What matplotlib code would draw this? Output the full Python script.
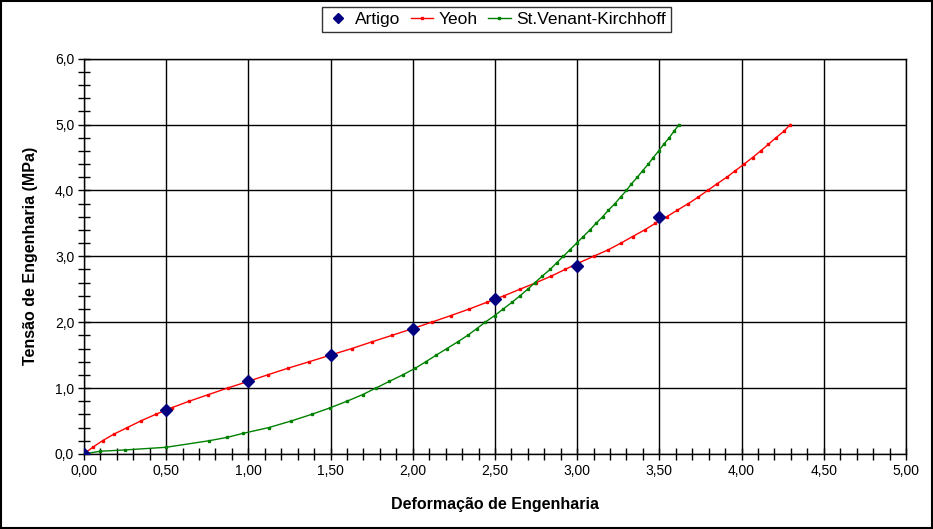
import matplotlib
matplotlib.use("Agg")
import matplotlib.pyplot as plt
from matplotlib.ticker import MultipleLocator, FuncFormatter
from matplotlib.patches import Rectangle

plt.rcParams['font.family'] = ['Liberation Sans', 'DejaVu Sans']

# dados do artigo
artigo_def = [0.0, 0.5, 1.0, 1.5, 2.0, 2.5, 3.0, 3.5]
artigo_tens = [0.0, 0.67, 1.10, 1.50, 1.89, 2.35, 2.86, 3.60]

# modelo de Yeoh
yeoh_def = [0.0, 0.053, 0.113, 0.182, 0.264, 0.345, 0.436, 0.533, 0.64, 0.757,
            0.874, 0.998, 1.117, 1.24, 1.371, 1.50, 1.63, 1.75, 1.874, 1.997,
            2.115, 2.232, 2.344, 2.449, 2.555, 2.652, 2.75, 2.843, 2.926, 3.01,
            3.10, 3.19, 3.266, 3.337, 3.41, 3.475, 3.544, 3.609, 3.676, 3.737,
            3.794, 3.85, 3.91, 3.962, 4.015, 4.067, 4.116, 4.163, 4.209, 4.258, 4.296]
yeoh_tens = [0.0, 0.1, 0.2, 0.3, 0.4, 0.5, 0.6, 0.7, 0.8, 0.9,
             1.0, 1.1, 1.2, 1.3, 1.4, 1.5, 1.6, 1.7, 1.8, 1.9,
             2.0, 2.1, 2.2, 2.3, 2.4, 2.5, 2.6, 2.7, 2.8, 2.9,
             3.0, 3.1, 3.2, 3.3, 3.4, 3.5, 3.6, 3.7, 3.8, 3.9,
             4.0, 4.1, 4.2, 4.3, 4.4, 4.5, 4.6, 4.7, 4.8, 4.9, 5.0]

# modelo St.Venant-Kirchhoff
svk_def = [0.0, 0.10, 0.25, 0.499, 0.762, 0.87, 0.965, 1.125, 1.261, 1.385,
           1.498, 1.60, 1.695, 1.776, 1.857, 1.939, 2.015, 2.08, 2.143, 2.208,
           2.273, 2.334, 2.388, 2.441, 2.498, 2.55, 2.603, 2.652, 2.699, 2.743,
           2.788, 2.835, 2.875, 2.916, 2.956, 2.997, 3.037, 3.078, 3.114, 3.155,
           3.19, 3.23, 3.264, 3.30, 3.33, 3.366, 3.398, 3.433, 3.463, 3.496,
           3.526, 3.56, 3.589, 3.62]
svk_tens = [0.0, 0.04, 0.06, 0.1, 0.2, 0.25, 0.31, 0.4, 0.5, 0.6,
            0.7, 0.8, 0.9, 1.0, 1.1, 1.2, 1.3, 1.4, 1.5, 1.6,
            1.7, 1.8, 1.9, 2.0, 2.1, 2.2, 2.3, 2.4, 2.5, 2.6,
            2.7, 2.8, 2.9, 3.0, 3.1, 3.2, 3.3, 3.4, 3.5, 3.6,
            3.7, 3.8, 3.9, 4.0, 4.1, 4.2, 4.3, 4.4, 4.5, 4.6,
            4.7, 4.8, 4.9, 5.0]

fig = plt.figure(figsize=(9.33, 5.29), dpi=100)
ax = fig.add_axes([0.090, 0.142, 0.881, 0.747])

ax.plot(artigo_def, artigo_tens, linestyle='none', marker='D', markersize=6,
        color='#000080', label='Artigo', zorder=4)
ax.plot(yeoh_def, yeoh_tens, color='#ff0000', linewidth=1, marker='s',
        markersize=1.8, label='Yeoh', zorder=3)
ax.plot(svk_def, svk_tens, color='#008000', linewidth=1, marker='s',
        markersize=1.8, label='St.Venant-Kirchhoff', zorder=3)

ax.set_xlim(0, 5)
ax.set_ylim(0, 6)
ax.xaxis.set_major_locator(MultipleLocator(0.5))
ax.xaxis.set_minor_locator(MultipleLocator(0.1))
ax.yaxis.set_major_locator(MultipleLocator(1.0))
ax.yaxis.set_minor_locator(MultipleLocator(0.2))
ax.xaxis.set_major_formatter(FuncFormatter(lambda v, p: f"{v:.2f}".replace('.', ',')))
ax.yaxis.set_major_formatter(FuncFormatter(lambda v, p: f"{v:.1f}".replace('.', ',')))
ax.tick_params(which='both', direction='inout', length=8, width=1, color='black',
               labelsize=10, pad=3)
ax.grid(True, which='major', color='black', linewidth=1)
ax.set_axisbelow(True)
for s in ax.spines.values():
    s.set_color('black')
    s.set_linewidth(1)

ax.set_xlabel('Deformação de Engenharia', fontsize=11.5, fontweight='bold', labelpad=14)
ax.set_ylabel('Tensão de Engenharia (MPa)', fontsize=11.5, fontweight='bold', labelpad=12)

leg = fig.legend(loc='upper center', bbox_to_anchor=(0.532, 0.987), ncol=3,
                 fontsize=12.5, frameon=True, fancybox=False, edgecolor='black',
                 handlelength=1.3, columnspacing=0.6, handletextpad=0.3,
                 borderpad=0.3, borderaxespad=0, markerscale=0.8)
leg.get_frame().set_linewidth(1)

fig.patches.append(Rectangle((0.001, 0.001), 0.998, 0.997, transform=fig.transFigure,
                             fill=False, edgecolor='black', linewidth=1.5))

fig.savefig('out.png', dpi=100)
